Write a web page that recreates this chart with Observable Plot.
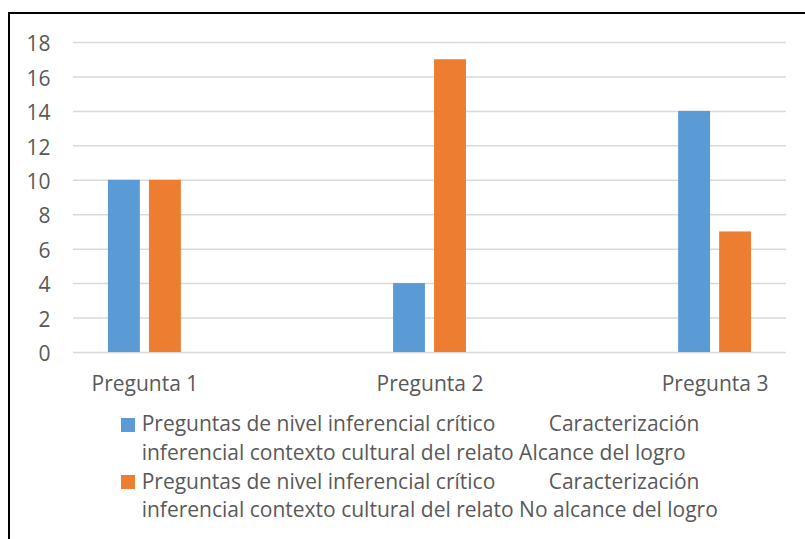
<!DOCTYPE html>
<html>
<head>
<meta charset="utf-8">
<script src="https://cdn.jsdelivr.net/npm/d3@7"></script>
<script src="https://cdn.jsdelivr.net/npm/@observablehq/plot@0.6"></script>
<style>
  html, body { margin: 0; padding: 0; background: #fff; overflow: hidden; width: 805px; height: 539px; }
  #frame { position: absolute; left: 8px; top: 12px; width: 860px; height: 600px; border: 2px solid #000; box-sizing: border-box; }
  #chart { position: absolute; left: 0; top: 0; }
  #legend { position: absolute; left: 121px; top: 409.2px; font-family: 'Open Sans', sans-serif; font-size: 21px; color: #595959; }
  .entry { position: relative; padding-left: 20.7px; width: 600px; }
  .line { position: relative; white-space: nowrap; height: 28.7px; line-height: 28.7px; }
  .second { position: absolute; left: 407px; top: 0; }
  .swatch { position: absolute; left: 0; top: 8.6px; width: 14px; height: 14px; }
</style>
</head>
<body>
<div id="frame"></div>
<div id="chart"></div>
<div id="legend"></div>
<script>
const categories = ["Pregunta 1", "Pregunta 2", "Pregunta 3"];
const seriesNames = [
  "Preguntas de nivel inferencial crítico\tCaracterización\ninferencial contexto cultural del relato Alcance del logro",
  "Preguntas de nivel inferencial crítico\tCaracterización\ninferencial contexto cultural del relato No alcance del logro"
];
const alcanceValues = [10, 4, 14];
const noAlcanceValues = [10, 17, 7];
const yTicks = [0, 2, 4, 6, 8, 10, 12, 14, 16, 18];
const colors = ["#5B9BD5", "#ED7D31"];

const seriesValues = [alcanceValues, noAlcanceValues];
const table = [];
seriesValues.forEach((vals, s) => vals.forEach((v, i) => table.push({category: categories[i], series: seriesNames[s], value: v})));

const chart = Plot.plot({
  width: 805,
  height: 400,
  marginLeft: 73,
  marginRight: 19,
  marginTop: 42,
  marginBottom: 48,
  style: {fontFamily: "'Open Sans', sans-serif", fontSize: "21px", color: "#595959", background: "transparent"},
  x: {domain: categories, paddingInner: 0.7443, paddingOuter: 0.1226, round: false, label: null},
  y: {domain: [0, 18], label: null},
  marks: [
    Plot.ruleY(yTicks, {stroke: "#d9d9d9", strokeWidth: 1.5}),
    Plot.barY(table.filter(d => d.series === seriesNames[0]), {x: "category", y: "value", fill: colors[0], insetRight: 41}),
    Plot.barY(table.filter(d => d.series === seriesNames[1]), {x: "category", y: "value", fill: colors[1], insetLeft: 41}),
    Plot.axisY({ticks: yTicks, tickSize: 0, tickPadding: 23, dy: 2, label: null, fill: "#595959"}),
    Plot.axisX({tickSize: 0, tickPadding: 24, label: null, fill: "#595959"})
  ]
});
document.getElementById("chart").appendChild(chart);

const legend = document.getElementById("legend");
seriesNames.forEach((name, s) => {
  const [first, rest] = name.split("\n");
  const [a, b] = first.split("\t");
  const entry = document.createElement("div");
  entry.className = "entry";
  const sw = document.createElement("div");
  sw.className = "swatch";
  sw.style.background = colors[s];
  entry.appendChild(sw);
  const l1 = document.createElement("div");
  l1.className = "line";
  const sa = document.createElement("span");
  sa.textContent = a;
  const sb = document.createElement("span");
  sb.className = "second";
  sb.textContent = b;
  l1.appendChild(sa);
  l1.appendChild(sb);
  const l2 = document.createElement("div");
  l2.className = "line";
  l2.textContent = rest;
  entry.appendChild(l1);
  entry.appendChild(l2);
  legend.appendChild(entry);
});
</script>
</body>
</html>
